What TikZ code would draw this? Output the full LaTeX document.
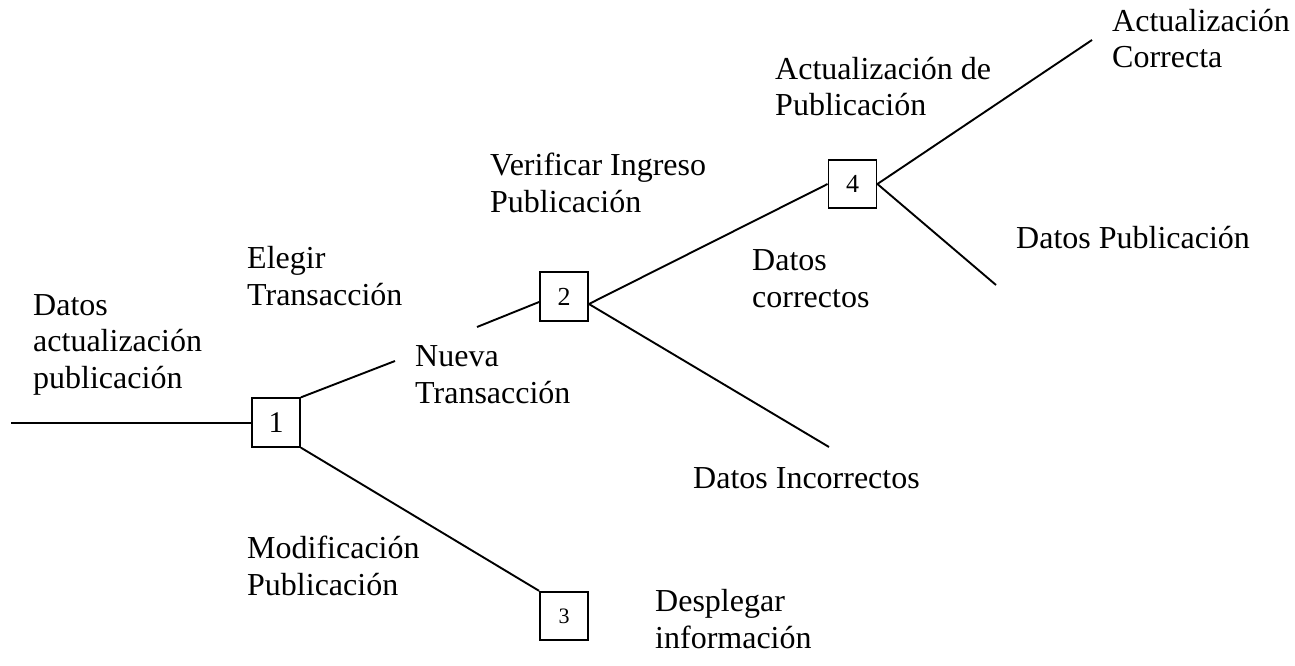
\documentclass[tikz,border=0pt]{standalone}
\usepackage{fontspec}
\setmainfont{Liberation Serif}
\begin{document}
\begin{tikzpicture}[x=1pt,y=-1pt,
  lbl/.style={anchor=base west,inner sep=0pt,align=left,font=\fontsize{32}{36.5}\selectfont},
  numbox/.style={draw,line width=1.8pt,minimum width=48pt,minimum height=48.5pt,inner sep=0pt},
  conn/.style={line width=1.9pt},
  thin/.style={line width=1.1pt}]
\useasboundingbox (0,0) rectangle (1295,666);
% boxes
\node[numbox,font=\fontsize{30}{30}\selectfont] (b1) at (276,422.5) {1};
\node[numbox,font=\fontsize{26}{26}\selectfont] (b2) at (564,296.5) {2};
\node[numbox,font=\fontsize{22}{22}\selectfont] (b3) at (564,616) {3};
\node[numbox,font=\fontsize{26}{26}\selectfont] (b4) at (852.5,184) {4};
% free ends
\coordinate (in) at (11,423);
\coordinate (e1) at (395,361);
\coordinate (s2) at (477,327);
\coordinate (e2) at (829,447);
\coordinate (e4a) at (1092,40);
\coordinate (e4b) at (996,285);
% connectors
\draw[thin] (in) -- (b1.west |- in);
\draw[conn] (b1.north east) -- (e1);
\draw[conn] (b1.south east) -- (b3.north west);
\draw[conn] (s2) -- ([yshift=-5.5pt]b2.west);
\draw[conn] ([yshift=-7.5pt]b2.east) -- (b4.west);
\draw[conn] ([yshift=-7.5pt]b2.east) -- (e2);
\draw[conn] (b4.east) -- (e4a);
\draw[conn] (b4.east) -- (e4b);
% labels (anchored at the baseline of the last line)
\node[lbl] (t1) at (33,388) {Datos\\actualización\\publicación};
\node[lbl] (t2) at (247,305) {Elegir\\Transacción};
\node[lbl] (t3) at (415,403) {Nueva\\Transacción};
\node[lbl] (t4) at (490,212) {Verificar Ingreso\\Publicación};
\node[lbl] (t5) at (775,116) {Actualización de\\Publicación};
\node[lbl] (t6) at (1112,68) {Actualización\\Correcta};
\node[lbl] (t7) at (1016,248) {Datos Publicación};
\node[lbl] (t8) at (752,307) {Datos\\correctos};
\node[lbl] (t9) at (693,488) {Datos Incorrectos};
\node[lbl] (t10) at (247,595) {Modificación\\Publicación};
\node[lbl] (t11) at (655,648) {Desplegar\\información};
\end{tikzpicture}
\end{document}
